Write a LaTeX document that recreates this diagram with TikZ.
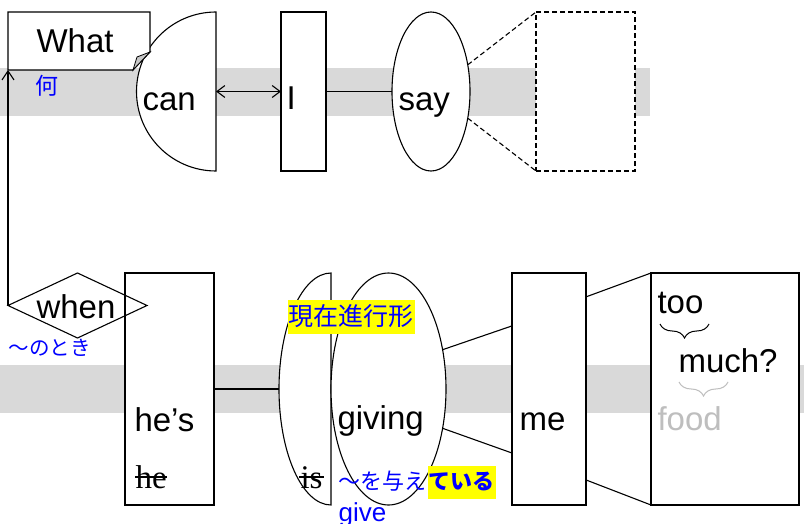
\documentclass[tikz,border=0pt]{standalone}
\usepackage{fontspec}
\setmainfont{Liberation Sans}
\newfontfamily\jpfont{Noto Sans CJK JP}
\newfontfamily\strikeserif{Liberation Serif}
\usetikzlibrary{shapes.geometric,arrows.meta,decorations.pathreplacing,calc}
\definecolor{bandgray}{RGB}{217,217,217}
\definecolor{foldgray}{RGB}{200,200,200}
\definecolor{jblue}{RGB}{0,0,255}
\definecolor{hiyellow}{RGB}{255,255,0}
\definecolor{foodgray}{RGB}{190,190,190}
\newcommand\jpsize[1]{\jpfont\fontsize{#1}{#1}\selectfont}
\begin{document}
\begin{tikzpicture}[x=1pt,y=-1pt,line width=1.1pt,
  band/.style={fill=bandgray,draw=none},
  boxshape/.style={draw,fill=white,rectangle,inner sep=0pt,outer sep=0pt},
  ghost/.style={rectangle,inner sep=0pt,outer sep=0pt},
  ell/.style={draw,fill=white,ellipse,inner sep=0pt,outer sep=0pt},
  word/.style={inner sep=0pt,anchor=base west,font=\fontsize{33}{40}\selectfont},
  strikeword/.style={inner sep=0pt,anchor=base west,font=\strikeserif\fontsize{33}{40}\selectfont},
  strike/.style={line width=1.2pt},
  dashedline/.style={dash pattern=on 5pt off 3pt},
  jtext/.style={inner sep=0pt,text=jblue},
  hilite/.style={fill=hiyellow,text=jblue,inner xsep=1pt,inner ysep=4.5pt},
  bracestyle/.style={decorate,decoration={brace,amplitude=14pt},line width=1pt}
]
\useasboundingbox (0,0) rectangle (804,524);
% bands
\path[band] (0,68) rectangle (650,116);
\path[band] (0,365) rectangle (804,413);

% can (semicircle)
\draw[fill=white] (216,12) arc[start angle=270,end angle=90,radius=79.5] -- cycle;
\node[ghost,minimum width=79.5pt,minimum height=159pt] (can) at (176.25,91.5) {};
% What (note with folded corner)
\draw[fill=white] (8,12) -- (150,12) -- (150,52) -- (133,70) -- (8,70) -- cycle;
\draw[fill=foldgray,line width=0.8pt] (150,52) -- (137,57) -- (133,70) -- cycle;
\node[ghost,minimum width=142pt,minimum height=58pt] (what) at (79,41) {};
% I
\node[boxshape,minimum width=45pt,minimum height=159pt] (I) at (303.5,91.5) {};
% say
\node[ell,minimum width=78pt,minimum height=159pt] (say) at (431,91.5) {};
% dashed box
\node[boxshape,dashedline,minimum width=99pt,minimum height=159pt] (dr) at (585.5,91.5) {};

% he's
\node[boxshape,minimum width=89pt,minimum height=232pt] (hes) at (169.5,389) {};
% when diamond
\node[draw,diamond,inner sep=0pt,outer sep=0pt,minimum width=139pt,minimum height=65pt] (when) at (77.5,305.5) {};
% is (half ellipse)
\draw[fill=white] (331,273) arc[start angle=270,end angle=90,x radius=52,y radius=116] -- cycle;
\node[ghost,minimum width=52pt,minimum height=232pt] (is) at (305,389) {};
% giving
\node[ell,minimum width=115pt,minimum height=232pt] (giving) at (388.5,389) {};
% me
\node[boxshape,minimum width=74pt,minimum height=232pt] (me) at (549,389) {};
% right box
\node[boxshape,minimum width=148pt,minimum height=232pt] (rr) at (725,389) {};

% connectors
\draw[-{Straight Barb[length=9pt,width=12pt]}] (when.west) -- (what.south west);
\draw[{Straight Barb[length=8pt,width=12pt]}-{Straight Barb[length=8pt,width=12pt]}] (can.east) -- (I.west);
\draw (I.east) -- (say.west);
\draw[dashedline] (say.36) -- (dr.north west);
\draw[dashedline] (say.-36) -- (dr.south west);
\draw (hes.east) -- (is.west);
\draw (giving.36) -- ($(me.north west)!0.228!(me.south west)$);
\draw (giving.-36) -- ($(me.north west)!0.776!(me.south west)$);
\draw ($(me.north east)!0.103!(me.south east)$) -- (rr.north west);
\draw ($(me.north east)!0.892!(me.south east)$) -- (rr.south west);

% words
\node[word] (tWhat) at (36,53) {What};
\node[word] (tCan) at (142,111) {can};
\node[word] (tI) at (286,110) {I};
\node[word] (tSay) at (398,111) {say};
\node[word] (tWhen) at (36,318) {when};
\node[word] (tHes) at (134,431) {he’s};
\node[word] (tGiving) at (337,429) {giving};
\node[word] (tMe) at (519,430) {me};
\node[word] (tToo) at (657,313) {too};
\node[word] (tMuch) at (678,372) {much?};
\node[word,text=foodgray] (tFood) at (657,430) {food};

\node[strikeword] (tHe) at (135,488) {he};
\draw[strike] ($(tHe.base west)+(0,-11)$) -- ($(tHe.base east)+(0,-11)$);
\node[strikeword] (tIs) at (300,488) {is};
\draw[strike] ($(tIs.base west)+(-1,-11)$) -- ($(tIs.base east)+(1,-11)$);

% braces
\draw[bracestyle] (709,324) -- (660,324);
\draw[bracestyle,draw=foodgray] (728,382) -- (679,382);

% Japanese and blue annotations
\node[jtext,font=\jpsize{23}] (tNani) at (46.5,86) {何};
\node[jtext,font=\jpsize{20.5}] (tNotoki) at (50,348) {～のとき};
\node[hilite,anchor=base,font=\jpsize{25},text height=21pt,text depth=4pt] (tGenzai) at (351,325.5) {現在進行形};
\node[jtext,anchor=base west,font=\jpsize{22}] (tAtae) at (338,489) {～を与え};
\node[hilite,anchor=base west,font=\jpsize{22}\bfseries,text height=19pt,text depth=5pt] (tTeiru) at (tAtae.base east) {ている};
\node[jtext,anchor=base west,font=\fontsize{26}{30}\selectfont] (tGive) at (338,521) {give};
\end{tikzpicture}
\end{document}
